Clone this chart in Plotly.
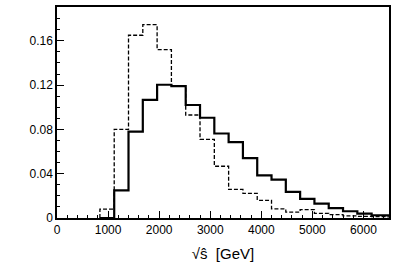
import plotly.graph_objects as go

# bin lower edges (GeV), bin width 280
bin_edges = [840, 1120, 1400, 1680, 1960, 2240, 2520, 2800, 3080, 3360, 3640,
             3920, 4200, 4480, 4760, 5040, 5320, 5600, 5880, 6160, 6440, 6720]

dashed_vals = [0.008, 0.080, 0.165, 0.1745, 0.152, 0.119, 0.093, 0.071, 0.0467,
               0.0258, 0.0222, 0.0160, 0.0082, 0.0053, 0.0076, 0.0042, 0.0030,
               0.0020, 0.0015, 0.0012, 0.0010]

solid_vals = [0.0, 0.025, 0.078, 0.1067, 0.1203, 0.119, 0.102, 0.0905, 0.0763,
              0.0685, 0.054, 0.0385, 0.0347, 0.0235, 0.0172, 0.0130, 0.0090,
              0.0061, 0.0040, 0.0025, 0.0023]

x_ticks = [0, 1000, 2000, 3000, 4000, 5000, 6000]
y_ticks = [0, 0.04, 0.08, 0.12, 0.16]
y_tick_labels = ["0", "0.04", "0.08", "0.12", "0.16"]


def steps(edges, vals):
    xs = [edges[0]] + edges[:len(vals)] + [edges[len(vals)]]
    ys = [0.0] + vals + [vals[-1]]
    return xs, ys


fig = go.Figure()
xd, yd = steps(bin_edges, dashed_vals)
fig.add_trace(go.Scatter(x=xd, y=yd, mode="lines", line_shape="hv",
                         line=dict(color="black", width=1.3, dash="4px,2px"),
                         showlegend=False, hoverinfo="skip"))
xs, ys = steps(bin_edges, solid_vals)
fig.add_trace(go.Scatter(x=xs, y=ys, mode="lines", line_shape="hv",
                         line=dict(color="black", width=2.2),
                         showlegend=False, hoverinfo="skip"))

font = dict(family="Liberation Sans, Arial, Helvetica, sans-serif", color="black")

fig.update_layout(
    width=403, height=265,
    margin=dict(l=57, r=14, t=5, b=45),
    plot_bgcolor="white", paper_bgcolor="white",
    font=dict(size=12, **font),
    xaxis=dict(
        range=[0, 6500], tickmode="array", tickvals=x_ticks,
        ticktext=[str(v) for v in x_ticks],
        ticks="inside", ticklen=7, tickwidth=1, tickcolor="black",
        minor=dict(dtick=200, ticks="inside", ticklen=3.5, tickcolor="black", tickwidth=1),
        showline=True, linecolor="black", linewidth=1.5, mirror=True,
        showgrid=False, zeroline=False,
        tickfont=dict(size=12, **font),
        title=dict(text="√ŝ  [GeV]", font=dict(size=15, **font), standoff=12),
    ),
    yaxis=dict(
        range=[0, 0.1905], tickmode="array", tickvals=y_ticks, ticktext=y_tick_labels,
        ticks="inside", ticklen=7, tickwidth=1, tickcolor="black",
        minor=dict(dtick=0.01, ticks="inside", ticklen=3.5, tickcolor="black", tickwidth=1),
        showline=True, linecolor="black", linewidth=1.5, mirror=True,
        showgrid=False, zeroline=False,
        tickfont=dict(size=12, **font),
    ),
)

fig.write_html("out.html", config={"displayModeBar": False},
               post_script="document.body.style.margin='0px';document.body.style.overflow='hidden';")
